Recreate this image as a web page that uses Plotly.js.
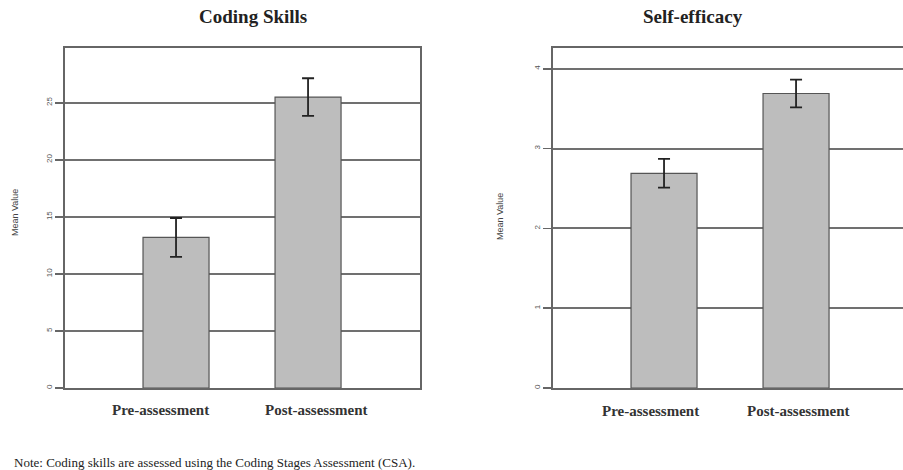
<!DOCTYPE html>
<html>
<head>
<meta charset="utf-8">
<script src="https://cdn.plot.ly/plotly-3.0.1.min.js"></script>
<style>
html,body{margin:0;padding:0;overflow:hidden;background:#fff;}
#chart{width:910px;height:470px;}
</style>
</head>
<body>
<div id="chart"></div>
<script>
// Data
const categories = ["Pre-assessment", "Post-assessment"];
const catPos = [1, 2];
const codingMeans = [13.2, 25.5];
const codingErr = [1.7, 1.65];
const efficacyMeans = [2.69, 3.69];
const efficacyErr = [0.18, 0.175];
const codingTicks = [0, 5, 10, 15, 20, 25];
const efficacyTicks = [0, 1, 2, 3, 4];
const titles = ["Coding Skills", "Self-efficacy"];
const note = "Note: Coding skills are assessed using the Coding Stages Assessment (CSA).";

const W = 910, H = 470;
const px = v => v / W;
const py = v => (H - v) / H;

const barStyle = {color: "#bdbdbd", line: {color: "#555", width: 1.2}};
const errStyle = {type: "data", visible: true, color: "#222", thickness: 1.8, width: 6};

const traces = [
  {type: "bar", x: catPos, y: codingMeans, width: 0.5, marker: barStyle,
   error_y: Object.assign({array: codingErr}, errStyle), xaxis: "x", yaxis: "y", hoverinfo: "none"},
  {type: "bar", x: catPos, y: efficacyMeans, width: 0.5, marker: barStyle,
   error_y: Object.assign({array: efficacyErr}, errStyle), xaxis: "x2", yaxis: "y2", hoverinfo: "none"}
];

const yDom = [py(388), py(48)];
const axX = {
  range: [0.159, 2.848], showgrid: false, zeroline: false, showticklabels: false,
  ticks: "", showline: true, mirror: true, linecolor: "#666", linewidth: 2
};
const axY = {
  showgrid: true, gridcolor: "#707070", gridwidth: 2, zeroline: false,
  showline: true, mirror: true, linecolor: "#666", linewidth: 2,
  ticks: "outside", ticklen: 8, tickcolor: "#666", tickwidth: 1.5,
  tickangle: -90, tickfont: {family: "Liberation Sans, Arial", size: 8, color: "#555"}
};

const layout = {
  width: W, height: H,
  margin: {l: 0, r: 0, t: 0, b: 0},
  paper_bgcolor: "#fff", plot_bgcolor: "#fff",
  showlegend: false,
  xaxis: Object.assign({}, axX, {domain: [px(65), px(420)], anchor: "y"}),
  yaxis: Object.assign({}, axY, {domain: yDom, range: [0, 29.8], tickvals: codingTicks, anchor: "x"}),
  xaxis2: Object.assign({}, axX, {domain: [px(553), px(908)], anchor: "y2"}),
  yaxis2: Object.assign({}, axY, {domain: yDom, range: [0, 4.26], tickvals: efficacyTicks, anchor: "x2"}),
  annotations: []
};

const serif = "Liberation Serif";
// titles
layout.annotations.push({text: titles[0], xref: "paper", yref: "paper", x: px(253), y: py(16),
  xanchor: "center", yanchor: "middle", showarrow: false, font: {family: serif, size: 19, color: "#222", weight: 600}});
layout.annotations.push({text: titles[1], xref: "paper", yref: "paper", x: px(693), y: py(16),
  xanchor: "center", yanchor: "middle", showarrow: false, font: {family: serif, size: 19, color: "#222", weight: 600}});
// y axis titles
layout.annotations.push({text: "Mean Value", xref: "paper", yref: "paper", x: px(15), y: py(213),
  xanchor: "center", yanchor: "middle", textangle: -90, showarrow: false,
  font: {family: "Liberation Sans, Arial", size: 9, color: "#444"}});
layout.annotations.push({text: "Mean Value", xref: "paper", yref: "paper", x: px(500), y: py(217),
  xanchor: "center", yanchor: "middle", textangle: -90, showarrow: false,
  font: {family: "Liberation Sans, Arial", size: 9, color: "#444"}});
// category labels
const leftShift = [-16, 8], rightShift = [-14, 2];
categories.forEach((c, i) => {
  layout.annotations.push({text: c, xref: "x", yref: "paper", x: catPos[i], xshift: leftShift[i],
    y: py(410), xanchor: "center", yanchor: "middle", showarrow: false, font: {family: serif, size: 15, color: "#333", weight: 600}});
  layout.annotations.push({text: c, xref: "x2", yref: "paper", x: catPos[i], xshift: rightShift[i],
    y: py(411), xanchor: "center", yanchor: "middle", showarrow: false, font: {family: serif, size: 15, color: "#333", weight: 600}});
});
// note
layout.annotations.push({text: note, xref: "paper", yref: "paper", x: px(12), y: py(462),
  xanchor: "left", yanchor: "middle", showarrow: false, font: {family: "Liberation Serif, serif", size: 13, color: "#222"}});

Plotly.newPlot("chart", traces, layout, {staticPlot: true, displayModeBar: false});
</script>
</body>
</html>
